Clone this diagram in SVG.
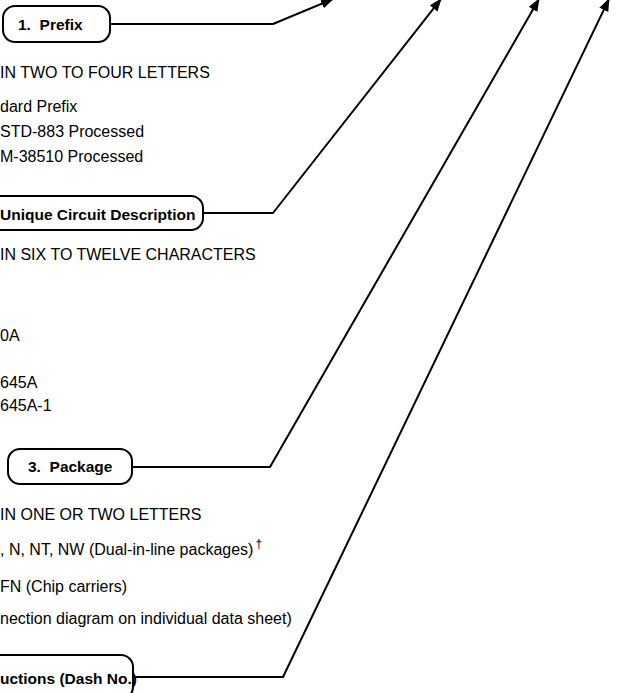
<svg xmlns="http://www.w3.org/2000/svg" width="625" height="693" viewBox="0 0 625 693">
<style>
.box{fill:#fff;stroke:#000;stroke-width:2}
.bt{font-family:"Liberation Sans",Arial,sans-serif;font-weight:bold;font-size:15.5px;fill:#000}
.t{font-family:"Liberation Sans",Arial,sans-serif;font-size:16px;fill:#000}
.sup{font-family:"Liberation Sans",Arial,sans-serif;font-size:12px;fill:#000}
.c{fill:none;stroke:#000;stroke-width:2;stroke-linejoin:round}
</style>
<defs>
<marker id="ah" markerUnits="userSpaceOnUse" markerWidth="14" markerHeight="10" refX="12" refY="5" orient="auto">
<path d="M0,0 L13,5 L0,10 Z" fill="#000"/>
</marker>
</defs>
<rect width="625" height="693" fill="#fff"/>
<g id="connectors">
<path class="c" d="M110,24 H273 L333,-1" marker-end="url(#ah)"/>
<path class="c" d="M203,213 H273 L441,-1" marker-end="url(#ah)"/>
<path class="c" d="M132,467 H270 L539,-1" marker-end="url(#ah)"/>
<path class="c" d="M133,677 H283 L609,-1" marker-end="url(#ah)"/>
</g>
<g id="prefix">
<rect class="box" x="3" y="6" width="107" height="36" rx="12"/>
<text class="bt" x="18" y="29.5" xml:space="preserve">1.  Prefix</text>
</g>
<g id="prefix-text">
<text class="t" x="0" y="78">IN TWO TO FOUR LETTERS</text>
<text class="t" x="0" y="112">dard Prefix</text>
<text class="t" x="0" y="137">STD-883 Processed</text>
<text class="t" x="0" y="162">M-38510 Processed</text>
</g>
<g id="circuit">
<rect class="box" x="-40" y="196" width="243" height="34" rx="12"/>
<text class="bt" x="0" y="220">Unique Circuit Description</text>
</g>
<g id="circuit-text">
<text class="t" x="0" y="260">IN SIX TO TWELVE CHARACTERS</text>
<text class="t" x="0" y="341">0A</text>
<text class="t" x="0" y="388">645A</text>
<text class="t" x="0" y="411">645A-1</text>
</g>
<g id="package">
<rect class="box" x="8" y="449" width="124" height="35" rx="12"/>
<text class="bt" x="28" y="472" xml:space="preserve">3.  Package</text>
</g>
<g id="package-text">
<text class="t" x="0" y="520">IN ONE OR TWO LETTERS</text>
<text class="t" x="0" y="555">, N, NT, NW (Dual-in-line packages)<tspan class="sup" dx="2" dy="-7">†</tspan></text>
<text class="t" x="0" y="592">FN (Chip carriers)</text>
<text class="t" x="0" y="624">nection diagram on individual data sheet)</text>
</g>
<g id="dash">
<rect class="box" x="-40" y="655" width="173" height="44" rx="12"/>
<text class="bt" x="0" y="684">uctions (Dash No.)</text>
</g>
</svg>
